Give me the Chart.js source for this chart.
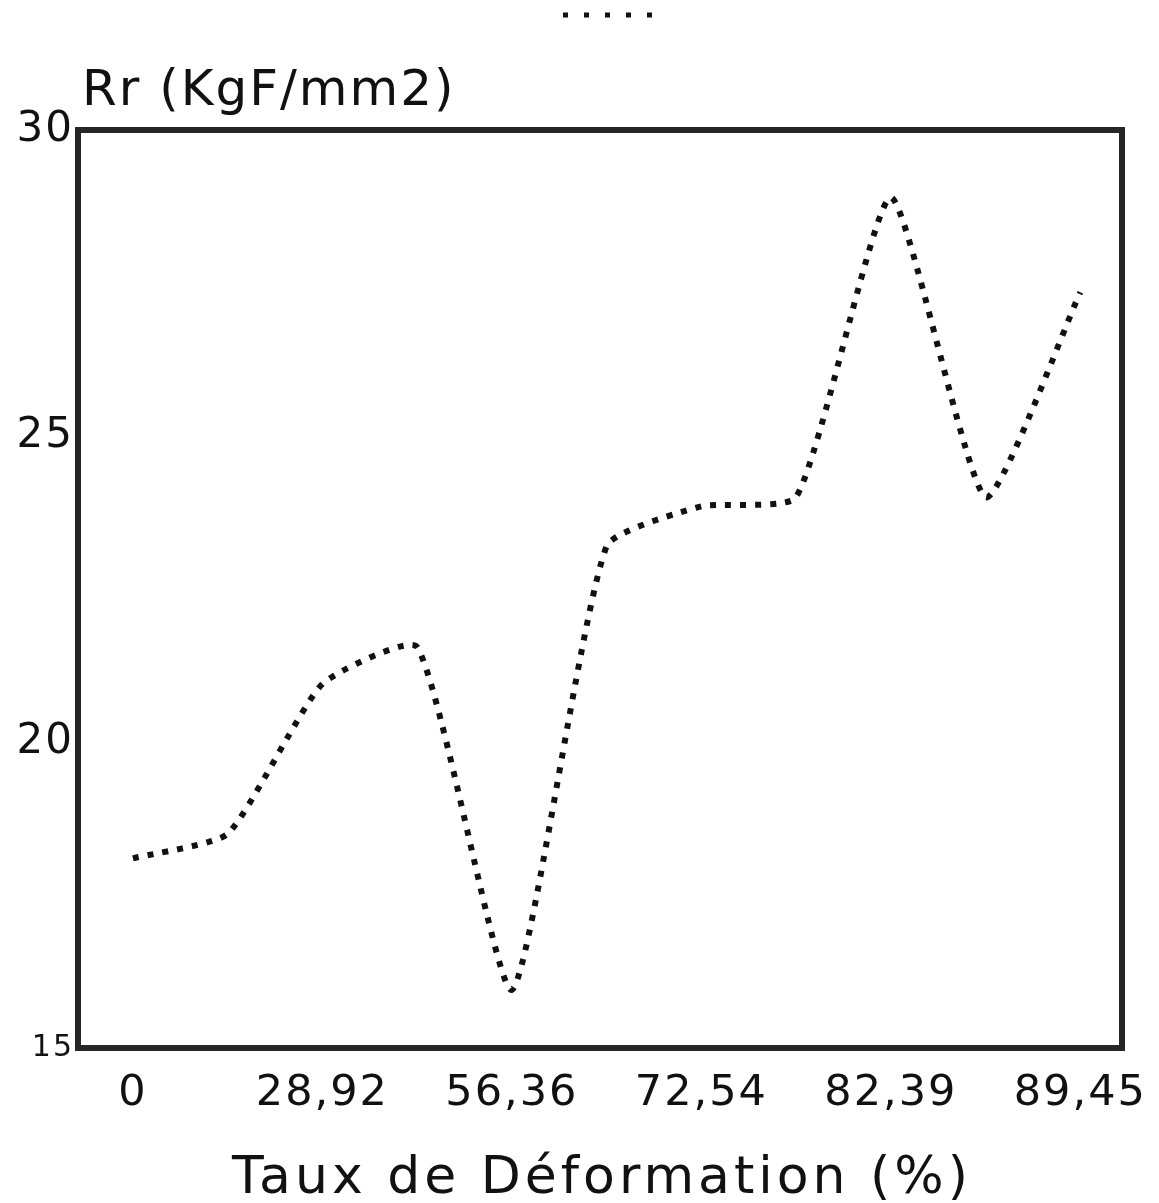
<!DOCTYPE html>
<html>
<head>
<meta charset="utf-8">
<title>Rr vs Taux de Déformation</title>
<script src="https://cdn.jsdelivr.net/npm/chart.js@4.4.0/dist/chart.umd.min.js"></script>
<style>
    html, body { margin: 0; padding: 0; background: #fff; }
    #wrap { width: 1159px; height: 1203px; }
</style>
</head>
<body>
<div id="wrap"><canvas id="chart" width="1159" height="1203"></canvas></div>
<script>
// Data
const steps = [0, 1, 2, 3, 4, 5, 6, 7, 8, 9, 10];
const rrValues = [18.1, 18.5, 20.95, 21.55, 15.95, 23.2, 23.85, 24.0, 28.9, 24.0, 27.35];
const tickSteps = [0, 2, 4, 6, 8, 10];
const tickLabels = ['0', '28,92', '56,36', '72,54', '82,39', '89,45'];
const yTicks = [15, 20, 25, 30];
const yUnit = 'Rr (KgF/mm2)';
const xTitle = 'Taux de Déformation (%)';

const FONT = "'DejaVu Sans', 'Liberation Sans', sans-serif";
const INK = '#111';

// The plotter font is wide: spread the tick labels a little
const wideText = {
    id: 'wideText',
    beforeDraw(chart) {
        chart.ctx.letterSpacing = '2px';
    }
};

// Frame, axis titles and the little legend sample on top
const decorations = {
    id: 'decorations',
    afterDatasetsDraw(chart) {
        const ctx = chart.ctx;
        const a = chart.chartArea;
        const cx = (a.left + a.right) / 2;
        ctx.save();
        ctx.strokeStyle = '#262626';
        ctx.lineWidth = 6;
        ctx.strokeRect(a.left, a.top, a.right - a.left, a.bottom - a.top);

        ctx.fillStyle = INK;
        ctx.textBaseline = 'alphabetic';

        ctx.letterSpacing = '2px';
        ctx.font = '50px ' + FONT;
        ctx.textAlign = 'left';
        ctx.fillText(yUnit, a.left + 4, a.top - 25);

        ctx.letterSpacing = '4px';
        ctx.font = '52px ' + FONT;
        ctx.textAlign = 'center';
        ctx.fillText(xTitle, cx + 2, chart.height - 10);

        // legend sample of the dotted line
        ctx.strokeStyle = INK;
        ctx.lineWidth = 5;
        ctx.setLineDash([5, 16]);
        ctx.beginPath();
        ctx.moveTo(cx - 37, 15);
        ctx.lineTo(cx + 52, 15);
        ctx.stroke();
        ctx.restore();
    }
};

new Chart(document.getElementById('chart'), {
    type: 'line',
    data: {
        labels: steps,
        datasets: [{
            label: 'Rr',
            data: steps.map((s, i) => ({ x: s, y: rrValues[i] })),
            borderColor: INK,
            borderWidth: 6,
            borderDash: [6, 9],
            borderCapStyle: 'butt',
            tension: 0.17,
            pointRadius: 0,
            fill: false
        }]
    },
    options: {
        responsive: false,
        animation: false,
        devicePixelRatio: 1,
        layout: { padding: { left: 2, right: 37, top: 130, bottom: 2 } },
        plugins: {
            legend: { display: false },
            tooltip: { enabled: false }
        },
        scales: {
            x: {
                type: 'linear',
                min: -0.58,
                max: 10.44,
                grid: { display: false, drawTicks: false },
                border: { display: false },
                afterBuildTicks: function(scale) {
                    scale.ticks = tickSteps.map(v => ({ value: v }));
                },
                afterFit: function(scale) {
                    scale.height = 1203 - 1048 - 2;
                    scale.paddingLeft = 0;
                    scale.paddingRight = 0;
                },
                ticks: {
                    padding: 20,
                    color: INK,
                    font: { family: FONT, size: 43 },
                    maxRotation: 0,
                    autoSkip: false,
                    callback: function(value) {
                        const i = tickSteps.indexOf(value);
                        return i >= 0 ? tickLabels[i] : '';
                    }
                }
            },
            y: {
                min: 15,
                max: 30,
                grid: { display: false, drawTicks: false },
                border: { display: false },
                afterBuildTicks: function(scale) {
                    scale.ticks = yTicks.map(v => ({ value: v }));
                },
                afterFit: function(scale) {
                    scale.width = 78 - 2;
                },
                ticks: {
                    padding: 4,
                    color: INK,
                    font: function(ctx) {
                        return { family: FONT, size: ctx.tick && ctx.tick.value === 15 ? 30 : 42 };
                    }
                }
            }
        }
    },
    plugins: [wideText, decorations]
});
</script>
</body>
</html>
